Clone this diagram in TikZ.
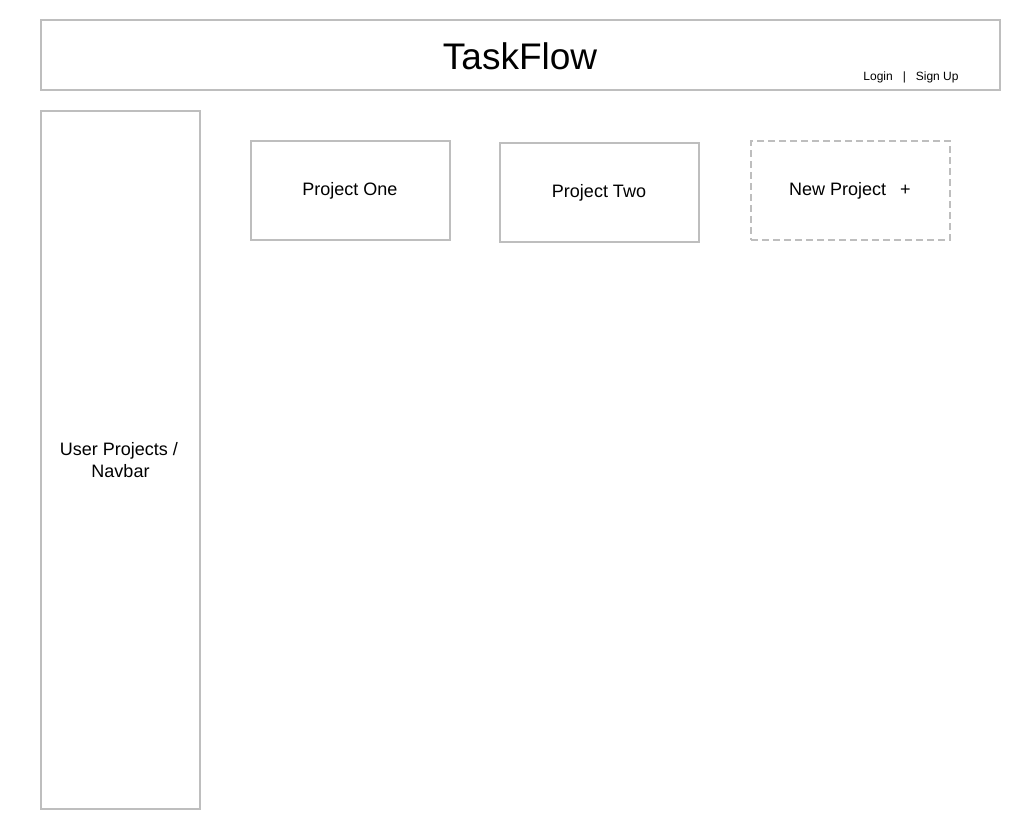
\documentclass[tikz,border=0pt]{standalone}
\usepackage{fontspec}
\setmainfont{Liberation Sans}
\usepackage{xcolor}
\definecolor{wireGray}{RGB}{190,190,190}
\newcommand{\wfSize}[1]{\fontsize{#1}{\dimexpr #1pt*5/4\relax}\selectfont}

\begin{document}
\begin{tikzpicture}[x=1pt,y=-1pt,
  wireBox/.style={draw=wireGray, line width=2pt, inner sep=0pt, anchor=north west},
  wireDash/.style={wireBox, dash pattern=on 7pt off 4pt}]
\useasboundingbox (0,0) rectangle (1020,830);
% header bar
\node[wireBox, minimum width=959pt, minimum height=70pt] (header) at (40,19) {};
\node[font=\wfSize{37}] (title) at (520,56) {TaskFlow};
\node[font=\wfSize{12}] (auth) at (911,77) {Login\hspace{10pt}|\hspace{10pt}Sign Up};
% side navigation
\node[wireBox, minimum width=159pt, minimum height=698pt] (navbar) at (40,110) {};
\node[font=\wfSize{18}, align=center, inner sep=0pt] (navText) at (119,460) {User Projects /\\ \hspace*{3pt}Navbar};
% project cards
\node[wireBox, minimum width=199pt, minimum height=99pt] (projOne) at (250,140) {};
\node[font=\wfSize{18}] (projOneText) at (350,190.5) {Project One};
\node[wireBox, minimum width=199pt, minimum height=99pt] (projTwo) at (499,142) {};
\node[font=\wfSize{18}] (projTwoText) at (599,192.5) {Project Two};
\node[wireDash, minimum width=199pt, minimum height=99pt] (projNew) at (750,140) {};
\node[font=\wfSize{18}] (projNewText) at (850,190.5) {New Project\hspace{14pt}+};
\end{tikzpicture}
\end{document}
